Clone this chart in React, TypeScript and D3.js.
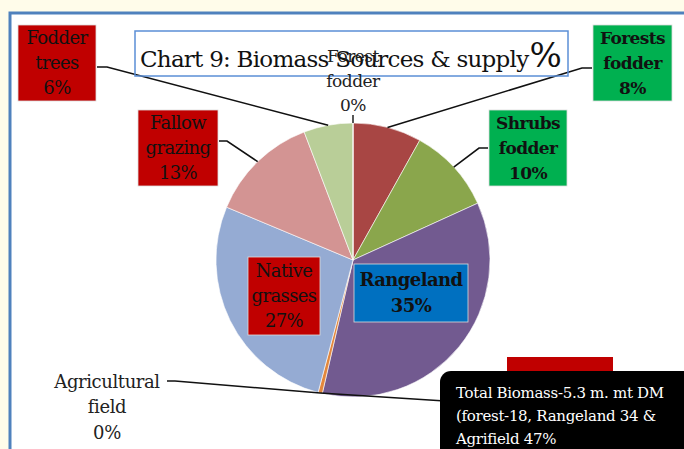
import * as d3 from "d3";

const categories = [
  "Forests fodder",
  "Shrubs fodder",
  "Rangeland",
  "Agricultural field",
  "Native grasses",
  "Fallow grazing",
  "Fodder trees",
  "Forest fodder",
];
const values = [8.1, 10.1, 35.4, 0.5, 27.2, 12.9, 5.8, 0.0];
const percentLabels = ["8%", "10%", "35%", "0%", "27%", "13%", "6%", "0%"];
const sliceColors = [
  "#a84644",
  "#8aa64c",
  "#725a90",
  "#e3873c",
  "#95abd3",
  "#d39493",
  "#b9ce98",
  "#4f81bd",
];

const W = 684;
const H = 449;
const cx = 353;
const cy = 260;
const R = 137;
const SERIF = "'DejaVu Serif', 'Liberation Serif', serif";

type Callout = {
  idx: number;
  x: number;
  y: number;
  w: number;
  h: number;
  fill: string;
  bold: boolean;
  lines: string[];
  anchorX: number;
  anchorY: number;
  elbow: number;
};

const callouts: Callout[] = [
  { idx: 6, x: 18, y: 25, w: 78, h: 76, fill: "#c00000", bold: false, lines: ["Fodder", "trees"], anchorX: 97, anchorY: 67, elbow: 10 },
  { idx: 0, x: 593, y: 25, w: 79, h: 76, fill: "#00b050", bold: true, lines: ["Forests", "fodder"], anchorX: 592, anchorY: 68, elbow: -10 },
  { idx: 5, x: 138, y: 110, w: 80, h: 76, fill: "#c00000", bold: false, lines: ["Fallow", "grazing"], anchorX: 219, anchorY: 141, elbow: 8 },
  { idx: 1, x: 489, y: 110, w: 78, h: 76, fill: "#00b050", bold: true, lines: ["Shrubs", "fodder"], anchorX: 488, anchorY: 148, elbow: -9 },
  { idx: 4, x: 248, y: 257, w: 72, h: 78, fill: "#c00000", bold: false, lines: ["Native", "grasses"], anchorX: 0, anchorY: 0, elbow: 0 },
  { idx: 2, x: 354, y: 264, w: 114, h: 58, fill: "#0070c0", bold: true, lines: ["Rangeland"], anchorX: 0, anchorY: 0, elbow: 0 },
];

export default function App() {
  const pie = d3
    .pie<number>()
    .value((d) => d)
    .sort(null);
  const arcs = pie(values);
  const arc = d3.arc<d3.PieArcDatum<number>>().innerRadius(0).outerRadius(R);
  const edge = (a: d3.PieArcDatum<number>) => {
    const m = (a.startAngle + a.endAngle) / 2;
    return [cx + R * Math.sin(m), cy - R * Math.cos(m)];
  };

  const [agX, agY] = edge(arcs[3]);
  const [tpX, tpY] = edge(arcs[7]);

  return (
    <svg
      width={W}
      height={H}
      style={{ position: "absolute", left: 0, top: 0, fontFamily: SERIF }}
    >
      <rect width={W} height={H} fill="#fffcea" />
      <rect x={10} y={13} width={W} height={H} fill="#fff" stroke="#4f81bd" strokeWidth={3} />

      <g transform={`translate(${cx},${cy})`}>
        {arcs.map((a, i) => (
          <path key={categories[i]} d={arc(a) || ""} fill={sliceColors[i]} stroke="#fff" strokeWidth={0.6} />
        ))}
      </g>

      {/* leader lines */}
      {callouts
        .filter((c) => c.anchorX > 0)
        .map((c) => {
          const [px, py] = edge(arcs[c.idx]);
          return (
            <polyline
              key={"l" + c.idx}
              points={`${c.anchorX},${c.anchorY} ${c.anchorX + c.elbow},${c.anchorY} ${px},${py}`}
              fill="none"
              stroke="#111"
              strokeWidth={1.6}
            />
          );
        })}
      <polyline
        points={`167,381 175,381 ${agX},${agY} 445,401`}
        fill="none"
        stroke="#111"
        strokeWidth={1.6}
      />
      <line x1={tpX} y1={tpY} x2={tpX} y2={tpY - 8} stroke="#111" strokeWidth={1.4} />

      {/* title */}
      <rect x={135} y={31} width={433} height={45} fill="none" stroke="#5b8fd6" strokeWidth={1.5} />
      <text x={140} y={67} fontSize={23} fill="#111" letterSpacing={-0.75}>
        Chart 9: Biomass Sources &amp; supply
        <tspan fontSize={34} dx={1}>%</tspan>
      </text>

      {/* top label (0% slice) */}
      <g fontSize={17} fill="#222" textAnchor="middle" letterSpacing={-0.5}>
        <text x={tpX} y={62}>Forest</text>
        <text x={tpX} y={87}>fodder</text>
        <text x={tpX} y={111}>{percentLabels[7]}</text>
      </g>

      {/* boxed labels */}
      {callouts.map((c) => {
        const lines = [...c.lines, percentLabels[c.idx]];
        const isRange = c.idx === 2;
        const lh = isRange ? 26 : 25;
        const y0 = c.y + c.h / 2 - ((lines.length - 1) * lh) / 2 + 6;
        return (
          <g key={"b" + c.idx}>
            <rect x={c.x} y={c.y} width={c.w} height={c.h} fill={c.fill} stroke="#ddd" strokeWidth={0.8} />
            {lines.map((t, k) => (
              <text
                key={k}
                x={c.x + c.w / 2}
                y={y0 + k * lh}
                textAnchor="middle"
                fontSize={isRange ? 18 : c.bold ? 17 : 18}
                fontWeight={c.bold ? "bold" : "normal"}
                letterSpacing={-0.6}
                fill="#111"
              >
                {t}
              </text>
            ))}
          </g>
        );
      })}

      {/* agricultural field label */}
      <g fontSize={18} fill="#222" textAnchor="middle" letterSpacing={-0.4}>
        <text x={107} y={388}>Agricultural</text>
        <text x={107} y={413}>field</text>
        <text x={107} y={439}>{percentLabels[3]}</text>
      </g>

      {/* note box */}
      <rect x={507} y={357} width={106} height={28} fill="#c00000" />
      <rect x={440} y={371} width={270} height={100} rx={11} fill="#000" />
      <g fontSize={15} fill="#fff" letterSpacing={-0.3}>
        <text x={456} y={398}>Total Biomass-5.3 m. mt DM</text>
        <text x={456} y={421}>(forest-18, Rangeland 34 &amp;</text>
        <text x={456} y={444}>Agrifield 47%</text>
      </g>
    </svg>
  );
}
